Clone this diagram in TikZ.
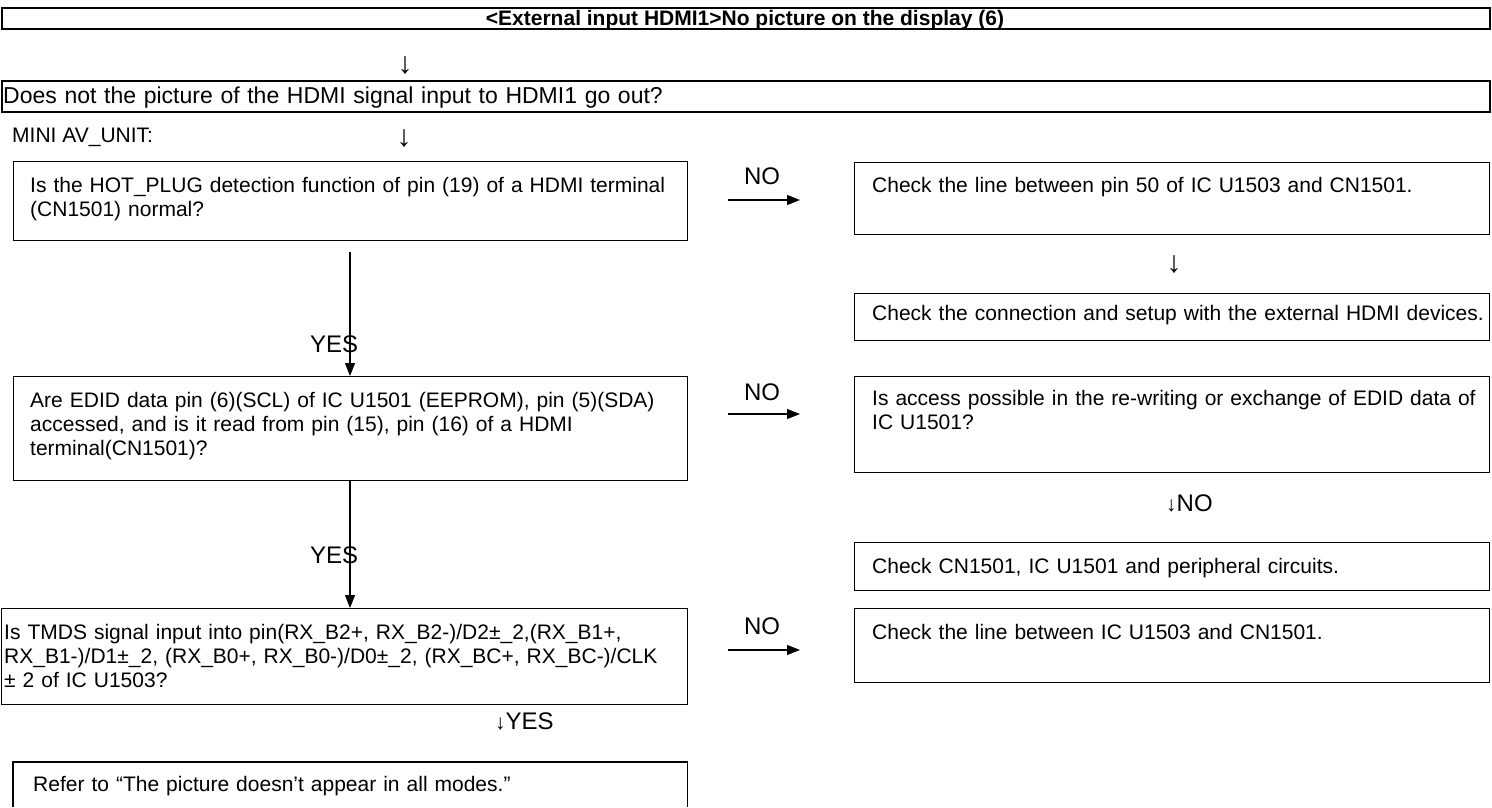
\documentclass[tikz,border=0pt]{standalone}
\usepackage{fontspec}
\setmainfont{Liberation Sans}
\usetikzlibrary{arrows.meta}
\begin{document}
\begin{tikzpicture}[x=1pt,y=-1pt,
  every node/.style={inner sep=0pt, font=\fontsize{21}{24}\selectfont},
  box/.style={draw, line width=1.2pt, anchor=north west},
  hbox/.style={draw, line width=1.8pt, anchor=north west},
  txt/.style={anchor=base west, text width=720pt, align=left},
  lbl/.style={font=\fontsize{24}{24}\selectfont},
  dn/.style={font=\fontsize{30}{30}\selectfont},
  flow/.style={line width=1.3pt, -{Triangle[length=13pt,width=10pt]}},
]
\useasboundingbox (0,0) rectangle (1492,807);
% header
\node[hbox, minimum width=1488pt, minimum height=21pt] (title) at (1,7) {};
\node[font=\bfseries\fontsize{21}{24}\selectfont, anchor=base] (titlet) at (745,25) {<External input HDMI1>No picture on the display (6)};
\node[dn] (a1) at (405,66) {↓};
\node[hbox, minimum width=1488pt, minimum height=31pt] (b2) at (1,80) {};
\node[txt, font=\fontsize{23}{24}\selectfont] (b2t) at (3,103) {Does not the picture of the HDMI signal input to HDMI1 go out?};
\node[anchor=base west] (unit) at (12,142.5) {MINI AV\_UNIT:};
\node[dn] (a2) at (404,139) {↓};
% question 1
\node[box, minimum width=674pt, minimum height=79pt] (q1) at (13,161) {};
\node[txt] (q1t) at (30,192) {Is the HOT\_PLUG detection function of pin (19) of a HDMI terminal\\(CN1501) normal?};
\node[lbl, anchor=base] (no1) at (762,184) {NO};
\coordinate (no1s) at (728,200);
\coordinate (no1e) at (800,200);
\node[box, minimum width=635pt, minimum height=72pt] (r1) at (854,162) {};
\node[txt] (r1t) at (872,192) {Check the line between pin 50 of IC U1503 and CN1501.};
\node[dn] (a3) at (1174,265) {↓};
\node[box, minimum width=635pt, minimum height=47pt] (r2) at (854,293) {};
\node[txt] (r2t) at (872,320) {Check the connection and setup with the external HDMI devices.};
\coordinate (y1s) at (350,252);
\node[lbl, anchor=base west] (yes1) at (310,352) {YES};
% question 2
\node[box, minimum width=674pt, minimum height=104pt] (q2) at (13,376) {};
\node[txt] (q2t) at (30,407) {Are EDID data pin (6)(SCL) of IC U1501 (EEPROM), pin (5)(SDA)\\accessed, and is it read from pin (15), pin (16) of a HDMI\\terminal(CN1501)?};
\node[lbl, anchor=base] (no2) at (762,400) {NO};
\coordinate (no2s) at (728,414);
\coordinate (no2e) at (800,414);
\node[box, minimum width=635pt, minimum height=96pt] (r3) at (854,376) {};
\node[txt] (r3t) at (872,405) {Is access possible in the re-writing or exchange of EDID data of\\IC U1501?};
\node[anchor=base west] (a4) at (1166,511) {↓\fontsize{24}{24}\selectfont NO};
\node[box, minimum width=635pt, minimum height=48pt] (r4) at (854,542) {};
\node[txt] (r4t) at (872,573) {Check CN1501, IC U1501 and peripheral circuits.};
\node[lbl, anchor=base west] (yes2) at (310,563) {YES};
% question 3
\node[box, minimum width=686pt, minimum height=96pt] (q3) at (1,608) {};
\node[txt] (q3t) at (4,639) {Is TMDS signal input into pin(RX\_B2+, RX\_B2-)/D2±\_2,(RX\_B1+,\\RX\_B1-)/D1±\_2, (RX\_B0+, RX\_B0-)/D0±\_2, (RX\_BC+, RX\_BC-)/CLK\\± 2 of IC U1503?};
\node[lbl, anchor=base] (no3) at (762,634) {NO};
\coordinate (no3s) at (728,650);
\coordinate (no3e) at (800,650);
\node[box, minimum width=635pt, minimum height=74pt] (r5) at (854,608) {};
\node[txt] (r5t) at (872,639) {Check the line between IC U1503 and CN1501.};
\node[anchor=base west] (a5) at (495,729) {↓\fontsize{24}{24}\selectfont YES};
% final box (cut by page edge)
\node[anchor=north west, minimum width=674pt, minimum height=45pt] (q4) at (13,762) {};
\draw[line width=1.2pt] (q4.south west) |- (q4.north east) -- (q4.south east);
\node[txt] (q4t) at (33,791) {Refer to “The picture doesn{\char"0027}t appear in all modes.”};
% connectors
\draw[flow] (no1s) -- (no1e);
\draw[flow] (no2s) -- (no2e);
\draw[flow] (no3s) -- (no3e);
\draw[flow] (y1s) -- (y1s |- q2.north);
\draw[flow] (q2.south -| y1s) -- (y1s |- q3.north);
\end{tikzpicture}
\end{document}
